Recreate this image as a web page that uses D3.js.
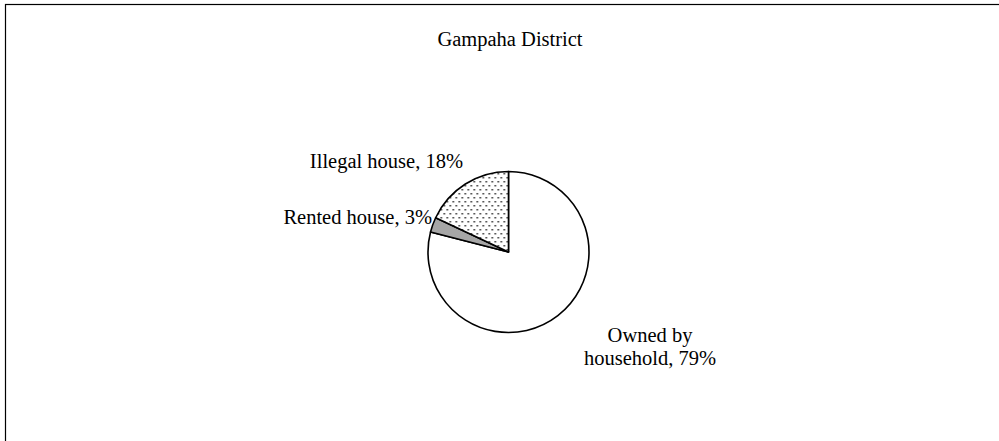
<!DOCTYPE html>
<html><head><meta charset="utf-8">
<script src="https://cdn.jsdelivr.net/npm/d3@7"></script>
<style>body{margin:0;background:#fff}svg{display:block}</style>
</head><body>
<svg id="c" width="999" height="441"></svg>
<script>
const categories = ["Owned by household", "Rented house", "Illegal house"];
const values = [79, 3, 18];
const title = "Gampaha District";

const svg = d3.select("#c");
const W = 999, H = 441;
svg.append("rect").attr("x",5.5).attr("y",4.5).attr("width",W+10).attr("height",H+10)
  .attr("fill","#fff").attr("stroke","#000").attr("stroke-width",1.2);

const defs = svg.append("defs");
const pat = defs.append("pattern").attr("id","dots").attr("patternUnits","userSpaceOnUse")
  .attr("width",6).attr("height",8);
pat.append("rect").attr("width",6).attr("height",8).attr("fill","#fff");
pat.append("rect").attr("x",1).attr("y",1).attr("width",1.5).attr("height",1.5).attr("fill","#222");
pat.append("rect").attr("x",4).attr("y",5).attr("width",1.5).attr("height",1.5).attr("fill","#222");

const fills = ["#ffffff", "#a6a6a6", "url(#dots)"];
const cx = 508.5, cy = 252, r = 80.5;

const pie = d3.pie().sort(null).value(d => d)(values);
const arc = d3.arc().innerRadius(0).outerRadius(r);
const g = svg.append("g").attr("transform",`translate(${cx},${cy})`);
g.selectAll("path").data(pie).join("path")
  .attr("d",arc).attr("fill",(d,i)=>fills[i]).attr("stroke","#000").attr("stroke-width",1.6)
  .attr("stroke-linejoin","round");

const font = "Liberation Serif, Times New Roman, serif";
const fs = 20.5;

svg.append("text").attr("x",510).attr("y",46).attr("text-anchor","middle")
  .attr("font-family",font).attr("font-size",fs).text(title);

const labelPos = [
  {x:650, y:342, anchor:"middle", lines:[categories[0].replace(" household",""), "household, " + values[0] + "%"]},
  {x:432, y:224, anchor:"end", lines:[categories[1] + ", " + values[1] + "%"]},
  {x:463, y:168, anchor:"end", lines:[categories[2] + ", " + values[2] + "%"]}
];
labelPos.forEach(l => {
  const t = svg.append("text").attr("x",l.x).attr("y",l.y).attr("text-anchor",l.anchor)
    .attr("font-family",font).attr("font-size",fs);
  l.lines.forEach((s,i)=> t.append("tspan").attr("x",l.x).attr("dy", i===0?0:23).text(s));
});
</script>
</body></html>
